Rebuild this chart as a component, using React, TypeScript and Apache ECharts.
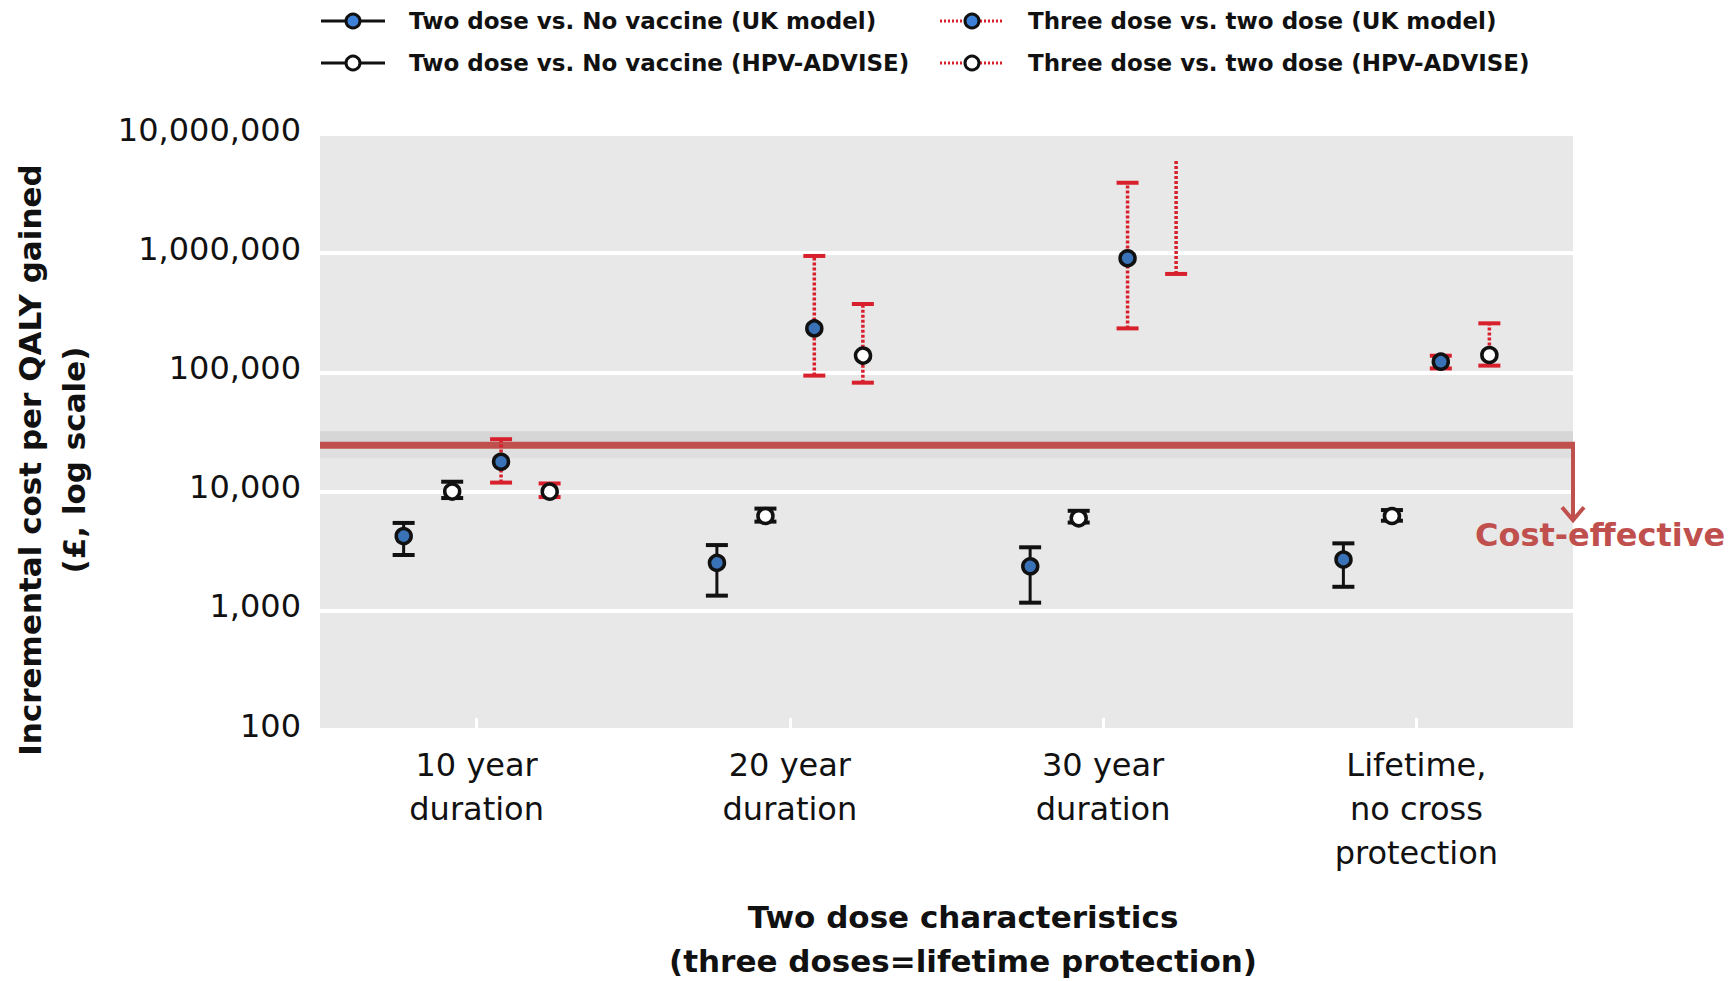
import React, { useEffect, useRef } from "react";
import * as echarts from "echarts";

// Scenario categories on the x axis
const categories = [
  "10 year\nduration",
  "20 year\nduration",
  "30 year\nduration",
  "Lifetime,\nno cross\nprotection",
];

// Series names (legend order)
const seriesNames = [
  "Two dose vs. No vaccine (UK model)",
  "Two dose vs. No vaccine (HPV-ADVISE)",
  "Three dose vs. two dose (UK model)",
  "Three dose vs. two dose (HPV-ADVISE)",
];

// Incremental cost per QALY gained (£): central estimate and range
const twoUkMid = [4300, 2580, 2420, 2750];
const twoUkLow = [2940, 1340, 1170, 1590];
const twoUkHigh = [5460, 3560, 3410, 3680];

const twoAdviseMid = [10000, 6240, 5970, 6240];
const twoAdviseLow = [8830, 5600, 5500, 5700];
const twoAdviseHigh = [12100, 7200, 6900, 7000];

const threeUkMid = [17800, 234000, 906000, 123000];
const threeUkLow = [11900, 94000, 234000, 108000];
const threeUkHigh = [27500, 948000, 3900000, 138000];

const threeAdviseMid = [10200, 142600, null, 140000];
const threeAdviseLow = [9000, 82000, 670000, 114000];
const threeAdviseHigh = [11700, 375000, 6100000, 258000];
// whether the upper end of the range is capped
const threeAdviseUpperCap = [1, 1, 0, 1];

// Willingness-to-pay threshold (£ per QALY)
const threshold = [24500];

const yTicks = [100, 1000, 10000, 100000, 1000000, 10000000];

const FONT = "'DejaVu Sans', sans-serif";
const INK = "#111111";
const RED_BAR = "#d8202c";
const BLUE = "#3a72b8";
const THRESH_RED = "#c0504d";

type Range = (number | null)[];

function buildData(mid: Range, low: Range, high: Range, caps?: number[]) {
  return mid.map((m, i) => [i, low[i], high[i], m == null ? NaN : m, caps ? caps[i] : 1]);
}

function errorRenderer(offsetFrac: number, barColor: string, dotted: boolean, fill: string) {
  return (params: any, api: any) => {
    const idx = api.value(0);
    const band = api.size([1, 0])[0];
    const lowPt = api.coord([idx, api.value(1)]);
    const cx = lowPt[0] + band * offsetFrac;
    const yLow = lowPt[1];
    const yHigh = api.coord([idx, api.value(2)])[1];
    const mid = api.value(3);
    const upperCap = api.value(4) === 1;
    const half = 11;
    const children: any[] = [
      {
        type: "line",
        shape: { x1: cx, y1: yLow, x2: cx, y2: yHigh },
        style: dotted
          ? { stroke: barColor, lineWidth: 3.5, lineDash: [3, 2] }
          : { stroke: barColor, lineWidth: 3 },
      },
      {
        type: "line",
        shape: { x1: cx - half, y1: yLow, x2: cx + half, y2: yLow },
        style: { stroke: barColor, lineWidth: 4 },
      },
    ];
    if (upperCap) {
      children.push({
        type: "line",
        shape: { x1: cx - half, y1: yHigh, x2: cx + half, y2: yHigh },
        style: { stroke: barColor, lineWidth: 4 },
      });
    }
    if (Number.isFinite(mid) && mid > 0) {
      const yMid = api.coord([idx, mid])[1];
      children.push({
        type: "circle",
        shape: { cx, cy: yMid, r: 7.5 },
        style: { fill, stroke: INK, lineWidth: 3.5 },
      });
    }
    return { type: "group", children };
  };
}

const seriesStyles = [
  { offset: -0.233, color: INK, dotted: false, fill: BLUE },
  { offset: -0.078, color: INK, dotted: false, fill: "#ffffff" },
  { offset: 0.078, color: RED_BAR, dotted: true, fill: BLUE },
  { offset: 0.233, color: RED_BAR, dotted: true, fill: "#ffffff" },
];

const seriesData = [
  buildData(twoUkMid, twoUkLow, twoUkHigh),
  buildData(twoAdviseMid, twoAdviseLow, twoAdviseHigh),
  buildData(threeUkMid, threeUkLow, threeUkHigh),
  buildData(threeAdviseMid, threeAdviseLow, threeAdviseHigh, threeAdviseUpperCap),
];

// Legend laid out in two columns of two rows
const legendCols = [321, 940];
const legendRows = [21, 63];

function legendGraphics() {
  const els: any[] = [];
  seriesNames.forEach((name, i) => {
    const col = Math.floor(i / 2);
    const row = i % 2;
    const s = seriesStyles[i];
    const x0 = legendCols[col];
    const y = legendRows[row];
    els.push({
      type: "line",
      shape: { x1: x0, y1: y, x2: x0 + 64, y2: y },
      style: s.dotted
        ? { stroke: s.color, lineWidth: 3, lineDash: [2, 2] }
        : { stroke: s.color, lineWidth: 3 },
    });
    els.push({
      type: "circle",
      shape: { cx: x0 + 32, cy: y, r: 7 },
      style: { fill: s.fill === BLUE ? "#3d82d8" : s.fill, stroke: INK, lineWidth: 3 },
    });
    els.push({
      type: "text",
      x: x0 + 88,
      y,
      style: {
        text: name,
        fill: INK,
        font: `bold 23px ${FONT}`,
        verticalAlign: "middle",
        align: "left",
      },
    });
  });
  return els;
}

export default function App() {
  const ref = useRef<HTMLDivElement>(null);

  useEffect(() => {
    if (!ref.current) return;
    const chart = echarts.init(ref.current, undefined, { renderer: "svg" });

    const option: any = {
      animation: false,
      backgroundColor: "#ffffff",
      textStyle: { fontFamily: FONT },
      grid: {
        left: 320,
        top: 134,
        right: 162,
        bottom: 251,
        show: true,
        backgroundColor: "#e8e8e8",
        borderWidth: 0,
      },
      xAxis: {
        type: "category",
        data: categories,
        boundaryGap: true,
        axisLine: { show: false },
        axisTick: {
          show: true,
          inside: true,
          alignWithLabel: true,
          length: 12,
          lineStyle: { color: "#ffffff", width: 3 },
        },
        axisLabel: {
          color: INK,
          fontSize: 32,
          lineHeight: 44,
          margin: 13,
          fontFamily: FONT,
        },
        splitLine: { show: false },
      },
      yAxis: {
        type: "log",
        logBase: 10,
        min: yTicks[0],
        max: yTicks[yTicks.length - 1],
        axisLine: { show: false },
        axisTick: { show: false },
        axisLabel: {
          color: INK,
          fontSize: 32,
          margin: 19,
          verticalAlign: "bottom",
          lineHeight: 9,
          fontFamily: FONT,
          formatter: (v: number) => Math.round(v).toLocaleString("en-US"),
        },
        splitLine: { show: true, lineStyle: { color: "#ffffff", width: 4 } },
      },
      graphic: [
        ...legendGraphics(),
        {
          type: "text",
          x: 30,
          y: 460,
          rotation: Math.PI / 2,
          style: {
            text: "Incremental cost per QALY gained",
            fill: INK,
            font: `bold 31px ${FONT}`,
            align: "center",
            verticalAlign: "middle",
          },
        },
        {
          type: "text",
          x: 74,
          y: 460,
          rotation: Math.PI / 2,
          style: {
            text: "(£, log scale)",
            fill: INK,
            font: `bold 31px ${FONT}`,
            align: "center",
            verticalAlign: "middle",
          },
        },
        {
          type: "text",
          x: 963,
          y: 917,
          style: {
            text: "Two dose characteristics",
            fill: INK,
            font: `bold 31px ${FONT}`,
            align: "center",
            verticalAlign: "middle",
          },
        },
        {
          type: "text",
          x: 963,
          y: 961,
          style: {
            text: "(three doses=lifetime protection)",
            fill: INK,
            font: `bold 31px ${FONT}`,
            align: "center",
            verticalAlign: "middle",
          },
        },
      ],
      series: [
        {
          type: "custom",
          name: "threshold",
          z: 1,
          data: threshold.map((t) => [0, t]),
          encode: { x: 0, y: 1 },
          renderItem: (params: any, api: any) => {
            const cs = params.coordSys;
            const y = api.coord([0, api.value(1)])[1];
            const right = cs.x + cs.width;
            return {
              type: "group",
              children: [
                {
                  type: "rect",
                  shape: { x: cs.x, y: y - 14, width: cs.width, height: 11 },
                  style: { fill: "#d6d6d6" },
                },
                {
                  type: "rect",
                  shape: { x: cs.x, y: y + 3, width: cs.width, height: 10 },
                  style: { fill: "#dfdfdf" },
                },
                {
                  type: "line",
                  shape: { x1: cs.x, y1: y, x2: right + 2, y2: y },
                  style: { stroke: THRESH_RED, lineWidth: 7 },
                },
                {
                  type: "line",
                  shape: { x1: right, y1: y, x2: right, y2: y + 75 },
                  style: { stroke: THRESH_RED, lineWidth: 4 },
                },
                {
                  type: "polyline",
                  shape: {
                    points: [
                      [right - 11, y + 62],
                      [right, y + 75],
                      [right + 11, y + 62],
                    ],
                  },
                  style: { stroke: THRESH_RED, lineWidth: 4, fill: null },
                },
                {
                  type: "text",
                  x: right - 98,
                  y: y + 90,
                  style: {
                    text: "Cost-effective",
                    fill: THRESH_RED,
                    font: `bold 32px ${FONT}`,
                    align: "left",
                    verticalAlign: "middle",
                  },
                },
              ],
            };
          },
        },
        ...seriesNames.map((name, i) => ({
          type: "custom",
          name,
          z: 3,
          data: seriesData[i],
          encode: { x: 0, y: [1, 2] },
          renderItem: errorRenderer(
            seriesStyles[i].offset,
            seriesStyles[i].color,
            seriesStyles[i].dotted,
            seriesStyles[i].fill
          ),
        })),
      ],
    };

    chart.setOption(option);
    return () => chart.dispose();
  }, []);

  return (
    <div
      ref={ref}
      style={{ position: "fixed", left: 0, top: 0, width: 1735, height: 981 }}
    />
  );
}
